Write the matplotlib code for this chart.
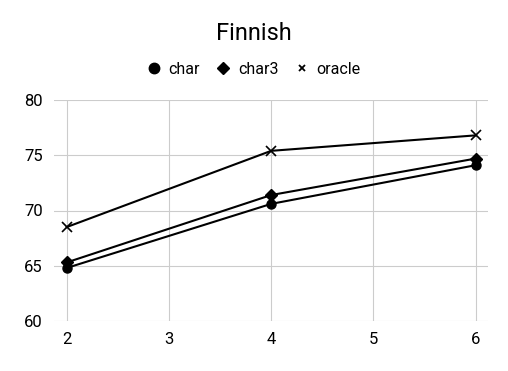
import matplotlib
matplotlib.use("Agg")
import matplotlib.pyplot as plt
from matplotlib.lines import Line2D

x = [2, 4, 6]
char = [64.8, 70.6, 74.1]
char3 = [65.3, 71.4, 74.7]
oracle = [68.5, 75.4, 76.8]
title = "Finnish"
xticks = [2, 3, 4, 5, 6]
yticks = [60, 65, 70, 75, 80]

plt.rcParams['font.family'] = ['Roboto', 'DejaVu Sans']
fig = plt.figure(figsize=(5.08, 3.71), dpi=100)
ax = fig.add_axes([54/508, 1-321/371, (488-54)/508, (321-100)/371])

ax.plot(x, char, color='black', lw=1.5, marker='o', ms=6.5, label='char')
ax.plot(x, char3, color='black', lw=1.5, marker='D', ms=5.8, label='char3')
ax.plot(x, oracle, color='black', lw=1.5, marker='x', ms=7.5, mew=1.2, label='oracle')

ax.set_xlim(1.876, 6.12)
ax.set_ylim(60, 80)
ax.set_xticks(xticks)
ax.set_yticks(yticks)
ax.grid(True, color='#cccccc', lw=0.8)
ax.set_axisbelow(True)
for s in ax.spines.values():
    s.set_visible(False)
ax.tick_params(length=0, labelsize=12, pad=8)

fig.text(0.5, 1-33/371, title, ha='center', va='center', fontsize=17)
handles = [
    Line2D([], [], ls='none', color='black', marker='o', ms=7.5),
    Line2D([], [], ls='none', color='black', marker='D', ms=6),
    Line2D([], [], ls='none', color='black', marker='x', ms=5, mew=1.3),
]
fig.legend(handles, ['char', 'char3', 'oracle'], loc='center', bbox_to_anchor=(0.5, 1-69/371),
           ncol=3, frameon=False, fontsize=11.5, handlelength=0.8, handletextpad=0.5,
           columnspacing=1.1)

fig.savefig('out.png', dpi=100)
